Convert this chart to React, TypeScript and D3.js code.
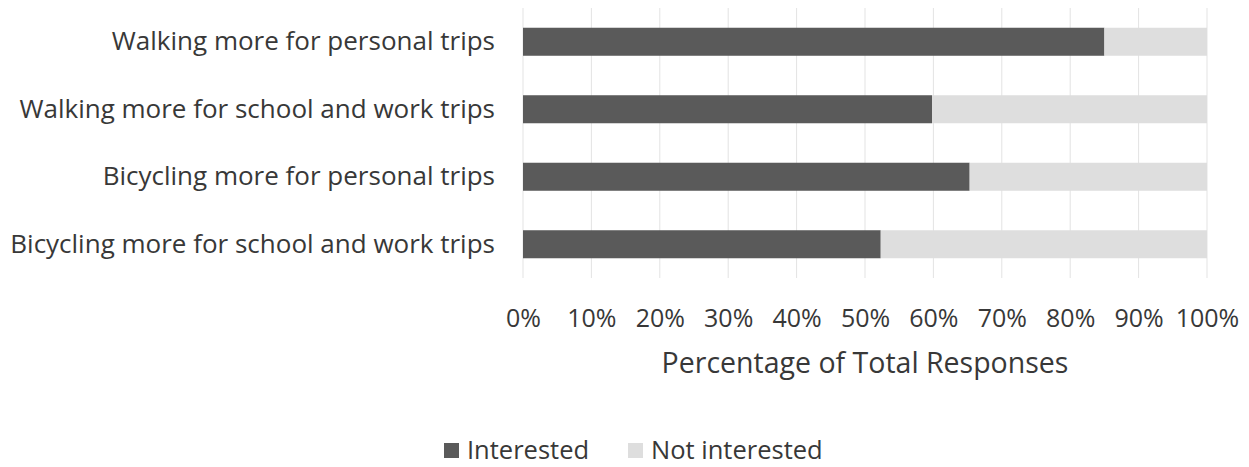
import React, { useEffect, useRef } from 'react';
import * as d3 from 'd3';

const categories = [
  'Walking more for personal trips',
  'Walking more for school and work trips',
  'Bicycling more for personal trips',
  'Bicycling more for school and work trips',
];
const interested = [85, 59.8, 65.3, 52.3];
const notInterested = interested.map((v) => 100 - v);
const seriesNames = ['Interested', 'Not interested'];
const seriesColors = ['#5a5a5a', '#dedede'];
const xTicks = [0, 10, 20, 30, 40, 50, 60, 70, 80, 90, 100];

const width = 1249;
const height = 467;
const plot = { left: 523, right: 1207, top: 8, bottom: 278 };
const font = '"Open Sans", sans-serif';
const textColor = '#383838';

export default function App(): JSX.Element {
  const container = useRef<SVGSVGElement>(null);

  useEffect(() => {
    const svg = d3.select(container.current);
    svg.selectAll('*').remove();

    const xScale = d3.scaleLinear().domain([0, 100]).range([plot.left, plot.right]);
    const yScale = d3
      .scaleBand()
      .domain(categories)
      .range([plot.top, plot.bottom])
      .paddingInner(0.585)
      .paddingOuter(0.2925);

    // gridlines
    svg
      .append('g')
      .selectAll('line')
      .data(xTicks)
      .join('line')
      .attr('x1', (d) => xScale(d))
      .attr('x2', (d) => xScale(d))
      .attr('y1', plot.top)
      .attr('y2', plot.bottom)
      .attr('stroke', '#e3e3e3')
      .attr('stroke-width', 1);

    const rows = categories.map((c, i) => ({ c, a: interested[i], b: notInterested[i] }));

    // bars
    svg
      .append('g')
      .selectAll('rect')
      .data(rows)
      .join('rect')
      .attr('x', xScale(0))
      .attr('y', (d) => yScale(d.c) || 0)
      .attr('width', (d) => xScale(d.a) - xScale(0))
      .attr('height', yScale.bandwidth())
      .attr('fill', seriesColors[0]);
    svg
      .append('g')
      .selectAll('rect')
      .data(rows)
      .join('rect')
      .attr('x', (d) => xScale(d.a))
      .attr('y', (d) => yScale(d.c) || 0)
      .attr('width', (d) => xScale(d.a + d.b) - xScale(d.a))
      .attr('height', yScale.bandwidth())
      .attr('fill', seriesColors[1]);

    // category labels
    const yAxis = d3.axisLeft(yScale).tickSize(0).tickPadding(28);
    const yg = svg.append('g').attr('transform', `translate(${plot.left},0)`).call(yAxis);
    yg.select('.domain').remove();
    yg.selectAll('text')
      .attr('font-family', font)
      .attr('font-size', 26)
      .attr('fill', textColor);

    // x ticks
    const xAxis = d3
      .axisBottom(xScale)
      .tickValues(xTicks)
      .tickSize(0)
      .tickPadding(31)
      .tickFormat((d) => `${d}%`);
    const xg = svg.append('g').attr('transform', `translate(0,${plot.bottom})`).call(xAxis);
    xg.select('.domain').remove();
    xg.selectAll('text')
      .attr('font-family', font)
      .attr('font-size', 25)
      .attr('fill', textColor);

    svg
      .append('text')
      .attr('x', (plot.left + plot.right) / 2)
      .attr('y', 373)
      .attr('text-anchor', 'middle')
      .attr('font-family', font)
      .attr('font-size', 28.5)
      .attr('fill', textColor)
      .text('Percentage of Total Responses');

    // legend
    const legendX = [444, 628];
    const lg = svg.append('g');
    seriesNames.forEach((name, i) => {
      lg.append('rect')
        .attr('x', legendX[i])
        .attr('y', 443)
        .attr('width', 15)
        .attr('height', 15)
        .attr('fill', seriesColors[i]);
      lg.append('text')
        .attr('x', legendX[i] + 23)
        .attr('y', 459)
        .attr('font-family', font)
        .attr('font-size', 25.5)
        .attr('fill', textColor)
        .text(name);
    });
  }, []);

  return (
    <svg
      ref={container}
      width={width}
      height={height}
      style={{ position: 'absolute', left: 0, top: 0, background: '#fff' }}
    />
  );
}
